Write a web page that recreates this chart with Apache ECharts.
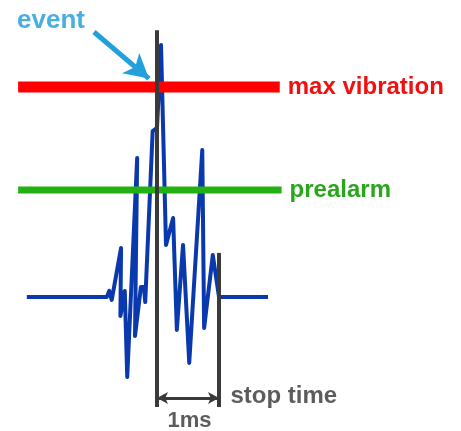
<!DOCTYPE html>
<html>
<head>
<meta charset="utf-8">
<style>
  html, body { margin: 0; padding: 0; background: #ffffff; }
  #chart { width: 461px; height: 431px; }
</style>
<script src="https://cdn.jsdelivr.net/npm/echarts@6/dist/echarts.min.js"></script>
</head>
<body>
<div id="chart"></div>
<script>
// Time in ms (event at 0), amplitude in arbitrary units (baseline 0)
var waveTime = [-2.10, -0.81, -0.77, -0.73, -0.58, -0.59, -0.52, -0.48, -0.32, -0.355, -0.26, -0.21, -0.19, -0.07, 0.0, 0.065, 0.145, 0.26, 0.32, 0.42, 0.52, 0.73, 0.76, 0.90, 1.0, 1.79];
var waveAmp  = [0, 0, 0.29, -0.14, 2.33, -0.90, 0.29, -3.81, 6.62, -1.86, 0.48, 0.48, -0.24, 7.90, 8.05, 12.0, 2.48, 3.76, -1.57, 2.48, -3.14, 7.00, -1.48, 2.00, 0, 0];

var maxVibration = 10;
var prealarm = 5.1;
var thresholdSpan = [-2.24, 1.98];   // time range drawn for threshold lines
var eventTime = 0;
var stopTime = 1;
var eventLineRange = [12.7, -5.24];
var stopLineRange = [2.1, -5.24];
var dimensionLevel = -4.81;

var labels = {
  maxVibration: 'max vibration',
  prealarm: 'prealarm',
  event: 'event',
  stopTime: 'stop time',
  interval: '1ms'
};

var FONT = '"Liberation Sans", Arial, Helvetica, sans-serif';
var GRAY = '#3a3a3a';

var waveData = waveTime.map(function (t, i) { return [t, waveAmp[i]]; });

var chart = echarts.init(document.getElementById('chart'), null, { renderer: 'canvas' });

function textPoint(value, text, color, size, pos) {
  return {
    value: value,
    symbol: 'circle',
    symbolSize: 1,
    itemStyle: { color: 'rgba(0,0,0,0)' },
    label: {
      show: true,
      position: pos,
      distance: 0,
      formatter: text,
      color: color,
      fontSize: size,
      fontWeight: 'bold',
      fontFamily: FONT
    }
  };
}

chart.setOption({
  animation: false,
  backgroundColor: '#ffffff',
  grid: { left: 2, right: 25, top: 3, bottom: 8 },
  xAxis: { type: 'value', min: -2.5, max: 4.5, show: false },
  yAxis: { type: 'value', min: -6, max: 14, show: false },
  series: [
    {
      type: 'line',
      data: waveData,
      symbol: 'none',
      clip: false,
      lineStyle: { color: '#0a38ad', width: 4, join: 'round' },
      z: 2
    },
    {
      type: 'line',
      data: [[thresholdSpan[0], maxVibration], [thresholdSpan[1], maxVibration]],
      symbol: 'none',
      clip: false,
      lineStyle: { color: '#ff0000', width: 11 },
      endLabel: {
        show: true,
        formatter: labels.maxVibration,
        distance: 8,
        color: '#f01010',
        fontSize: 24,
        fontWeight: 'bold',
        fontFamily: FONT
      },
      z: 3
    },
    {
      type: 'line',
      data: [[thresholdSpan[0], prealarm], [thresholdSpan[1] + 0.03, prealarm]],
      symbol: 'none',
      clip: false,
      lineStyle: { color: '#22b012', width: 7 },
      endLabel: {
        show: true,
        formatter: labels.prealarm,
        distance: 8,
        color: '#2aa61c',
        fontSize: 24,
        fontWeight: 'bold',
        fontFamily: FONT
      },
      z: 3
    },
    {
      type: 'line',
      data: [[eventTime, eventLineRange[0]], [eventTime, eventLineRange[1]]],
      symbol: 'none',
      clip: false,
      lineStyle: { color: GRAY, width: 4 },
      z: 4
    },
    {
      type: 'line',
      data: [[stopTime, stopLineRange[0]], [stopTime, stopLineRange[1]]],
      symbol: 'none',
      clip: false,
      lineStyle: { color: GRAY, width: 4 },
      z: 4,
      markLine: {
        silent: true,
        animation: false,
        symbol: ['arrow', 'arrow'],
        symbolSize: [9, 11],
        label: { show: false },
        lineStyle: { color: GRAY, width: 3, type: 'solid' },
        data: [[{ coord: [eventTime, dimensionLevel] }, { coord: [stopTime, dimensionLevel] }]]
      }
    },
    {
      type: 'scatter',
      clip: false,
      silent: true,
      z: 5,
      data: [
        textPoint([-1.71, 13.15], labels.event, '#1e9ad8', 26, 'inside'),
        textPoint([1.177, -4.75], labels.stopTime, '#333333', 24, 'right'),
        textPoint([0.524, -5.88], labels.interval, '#333333', 22, 'inside')
      ],
      markLine: {
        silent: true,
        animation: false,
        symbol: ['none', 'arrow'],
        symbolSize: [20, 24],
        label: { show: false },
        lineStyle: { color: '#22a0dc', width: 5, type: 'solid' },
        data: [[{ coord: [-1.016, 12.62] }, { coord: [-0.13, 10.40] }]]
      }
    }
  ]
});
</script>
</body>
</html>
